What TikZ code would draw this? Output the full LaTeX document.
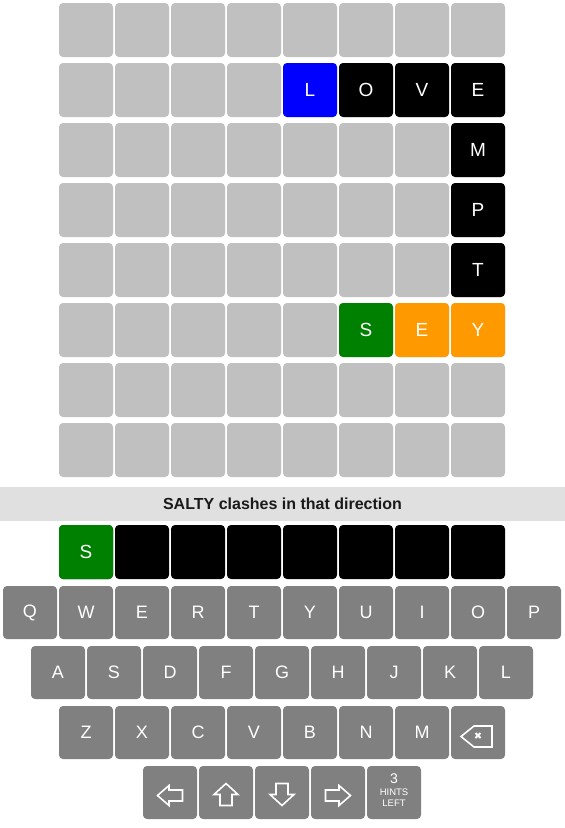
\documentclass[tikz,border=0pt]{standalone}
\usepackage{fontspec}
\setmainfont{Liberation Sans}

\definecolor{tilegray}{HTML}{C0C0C0}
\definecolor{keygray}{HTML}{808080}
\definecolor{bargray}{HTML}{E0E0E0}
\definecolor{bartext}{HTML}{1A1A1A}
\definecolor{wordgreen}{HTML}{008000}
\definecolor{wordorange}{HTML}{FF9900}

\tikzstyle{tile} = [rectangle, rounded corners=4pt, minimum width=54pt, minimum height=54pt,
    inner sep=0pt, fill=tilegray, text=white, font=\fontsize{19}{19}\selectfont]
\tikzstyle{key} = [tile, fill=keygray, minimum height=53pt, font=\fontsize{18}{18}\selectfont]
\tikzstyle{icon} = [draw=white, line width=1.6pt, line join=miter]

\begin{document}
\begin{tikzpicture}[x=1pt, y=-1pt]
\useasboundingbox (0,0) rectangle (565,828);

% board
\foreach \r in {0,...,7}
    \foreach \c in {0,...,7}
        \node[tile] (t-\r-\c) at (86+56*\c, 30+60*\r) {};
\foreach \r/\c/\col/\ch in {1/4/blue/L, 1/5/black/O, 1/6/black/V, 1/7/black/E,
        2/7/black/M, 3/7/black/P, 4/7/black/T,
        5/5/wordgreen/S, 5/6/wordorange/E, 5/7/wordorange/Y}
    \node[tile, fill=\col] at (t-\r-\c) {\ch};

% message
\node[fill=bargray, minimum width=565pt, minimum height=34pt, inner sep=0pt,
    text=bartext, font=\bfseries\fontsize{16}{16}\selectfont]
    (status) at (282.5, 504) {SALTY clashes in that direction};

% current word
\foreach \c in {0,...,7}
    \node[tile, fill=black] (w-\c) at (86+56*\c, 552) {};
\node[tile, fill=wordgreen] at (w-0) {S};

% keyboard
\foreach \k [count=\i from 0] in {Q,W,E,R,T,Y,U,I,O,P}
    \node[key] (k-\k) at (30+56*\i, 612.5) {\k};
\foreach \k [count=\i from 0] in {A,S,D,F,G,H,J,K,L}
    \node[key] (k-\k) at (58+56*\i, 672.5) {\k};
\foreach \k [count=\i from 0] in {Z,X,C,V,B,N,M}
    \node[key] (k-\k) at (86+56*\i, 732.5) {\k};
\node[key] (k-bksp) at (478, 732.5) {};
\foreach \n [count=\i from 0] in {k-left,k-up,k-down,k-right,k-hints}
    \node[key] (\n) at (170+56*\i, 792.5) {};

% icons
\draw[icon] ([shift={(-17,4)}]k-bksp.center) -- ++(13,-10.5) -- ++(18,0)
    -- ++(0,21) -- ++(-18,0) -- cycle;
\draw[icon, line width=1.9pt] ([shift={(-2.5,0.5)}]k-bksp.center) -- ++(5,5)
    ([shift={(-2.5,5.5)}]k-bksp.center) -- ++(5,-5);
\draw[icon] ([shift={(-12.5,3)}]k-left.center) -- ++(11.5,-10) -- ++(0,4.5)
    -- ++(13.5,0) -- ++(0,11) -- ++(-13.5,0) -- ++(0,4.5) -- cycle;
\draw[icon] ([shift={(12.5,3)}]k-right.center) -- ++(-11.5,-10) -- ++(0,4.5)
    -- ++(-13.5,0) -- ++(0,11) -- ++(13.5,0) -- ++(0,4.5) -- cycle;
\draw[icon] ([shift={(0,-9)}]k-up.center) -- ++(12,11) -- ++(-6,0)
    -- ++(0,11) -- ++(-12,0) -- ++(0,-11) -- ++(-6,0) -- cycle;
\draw[icon] ([shift={(0,13)}]k-down.center) -- ++(12,-11) -- ++(-6,0)
    -- ++(0,-11) -- ++(-12,0) -- ++(0,11) -- ++(-6,0) -- cycle;

% hints
\node[text=white, inner sep=0pt, font=\fontsize{14}{14}\selectfont]
    (h-num) at ([shift={(0,-13.5)}]k-hints.center) {3};
\node[text=white, inner sep=0pt, font=\fontsize{9.5}{9.5}\selectfont]
    (h-hints) at ([shift={(0,-0.5)}]k-hints.center) {HINTS};
\node[text=white, inner sep=0pt, font=\fontsize{9.5}{9.5}\selectfont]
    (h-left) at ([shift={(0,10.5)}]k-hints.center) {LEFT};
\end{tikzpicture}
\end{document}
